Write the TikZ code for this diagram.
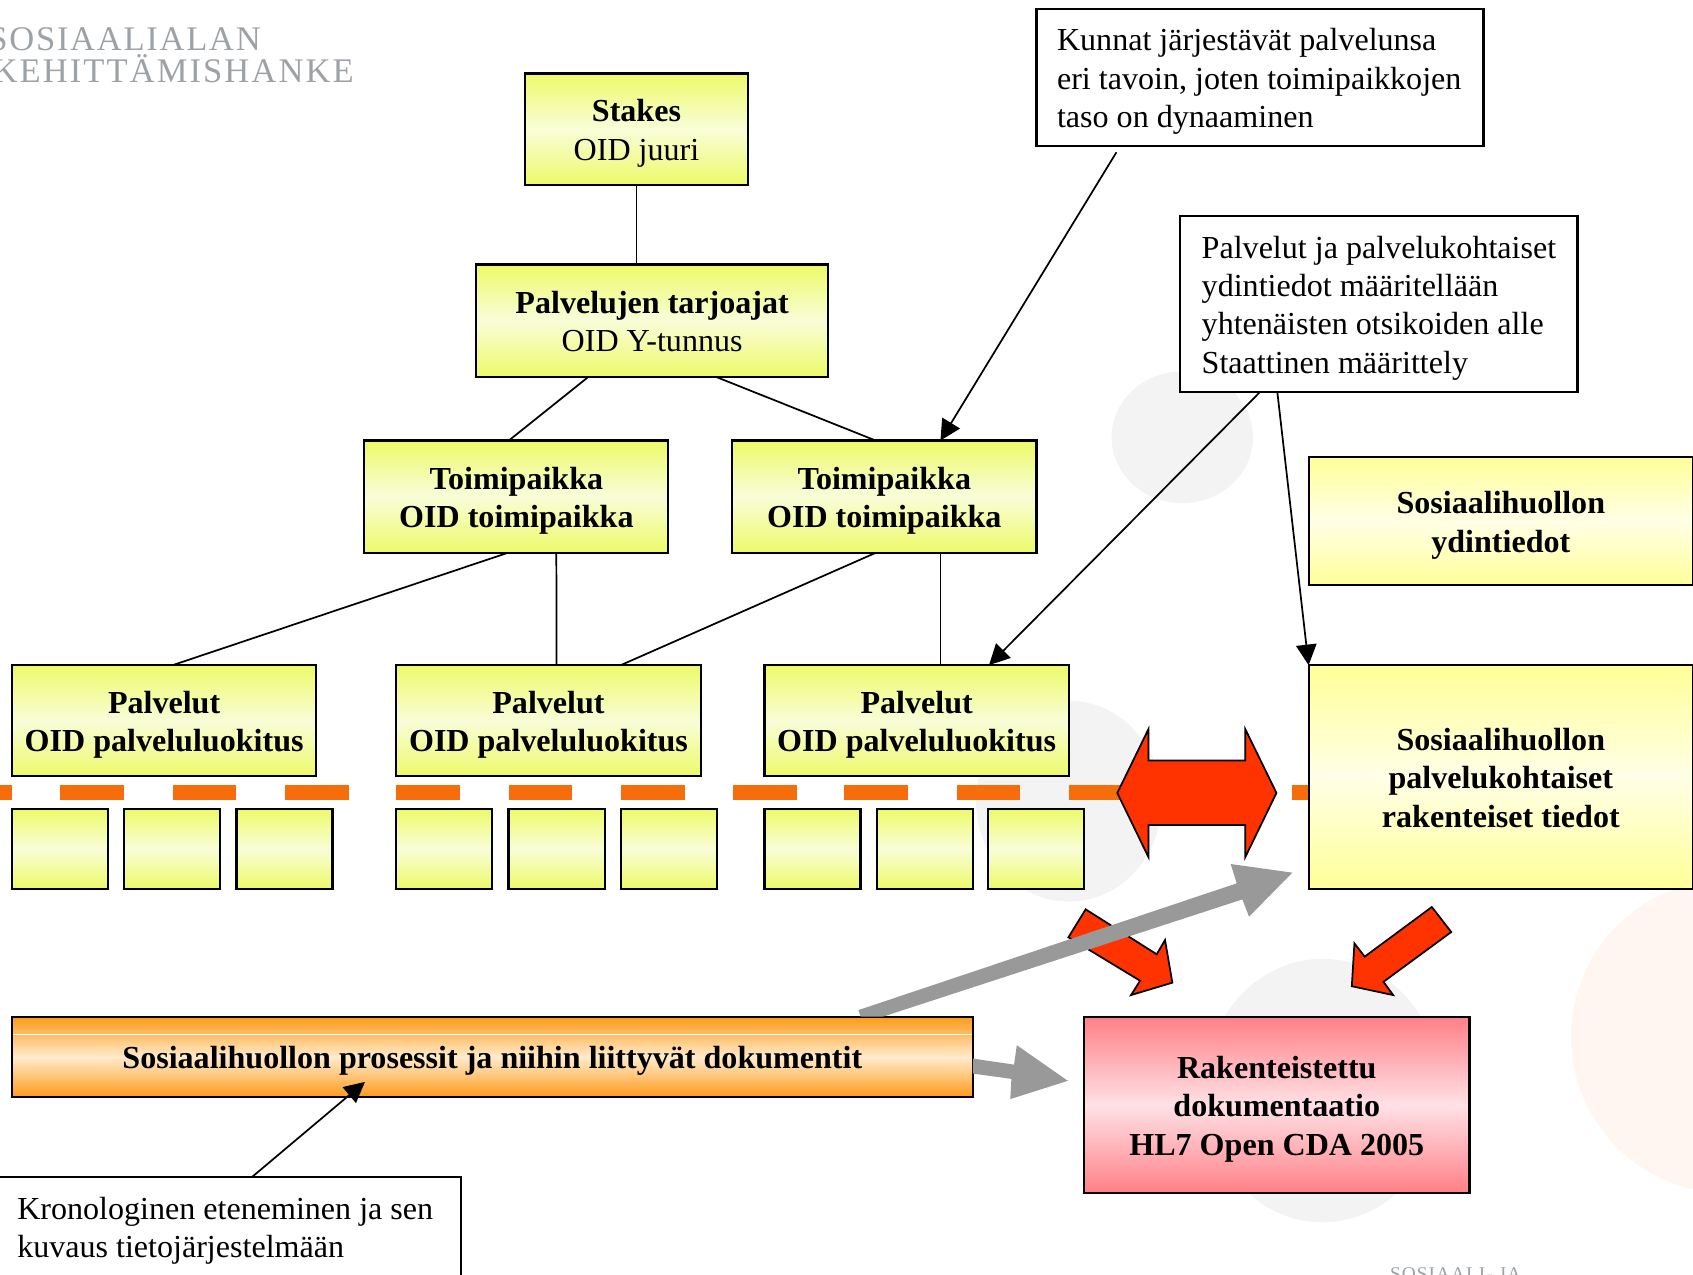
\documentclass[tikz,border=0pt]{standalone}
\usepackage{fontspec}
\setmainfont{Liberation Serif}
\usetikzlibrary{arrows.meta,calc}
\definecolor{yEnd}{HTML}{EDFA68}
\definecolor{yMid}{HTML}{F9FDD8}
\definecolor{sEnd}{HTML}{FFFF99}
\definecolor{sMid}{HTML}{FFFFE6}
\definecolor{pEnd}{HTML}{FF8087}
\definecolor{pMid}{HTML}{FFE1E6}
\definecolor{oEnd}{HTML}{FF9A1A}
\definecolor{oMid}{HTML}{FFEBCC}
\definecolor{redArrow}{HTML}{FF3300}
\definecolor{greyArrow}{HTML}{999999}
\definecolor{dashOrange}{HTML}{F76D0C}
\definecolor{bgGrey}{HTML}{F3F3F3}
\definecolor{bgRed}{HTML}{FFF6F2}
\definecolor{logoGrey}{HTML}{9DA2A6}
\newcommand{\topstrut}{\rule{0pt}{15pt}}
\newcommand{\botstrut}{\rule[-4pt]{0pt}{4pt}}
\newcommand{\boxat}[7]{%
  \pgfmathsetmacro{\bcx}{(#2+#4)/2}\pgfmathsetmacro{\bcy}{(#3+#5)/2}%
  \pgfmathsetmacro{\bw}{(#4-#2)*0.5}\pgfmathsetmacro{\bh}{(#5-#3)*0.5}%
  \node[#6,minimum width=\bw pt,minimum height=\bh pt] (#1) at (\bcx,\bcy) {\topstrut #7\botstrut};}
\newcommand{\dashat}[1]{\fill[dashOrange] (#1,727) rectangle ++(59,14);}
\tikzset{
  base/.style={draw=black,line width=1pt,inner sep=0pt,outer sep=0pt,align=flush center,
    font=\fontsize{14.85}{17.75}\selectfont},
  ybox/.style={base,top color=yEnd,bottom color=yEnd,middle color=yMid},
  sbox/.style={base,top color=sEnd,bottom color=sEnd,middle color=sMid},
  pbox/.style={base,top color=pEnd,bottom color=pEnd,middle color=pMid},
  obox/.style={base,top color=oEnd,bottom color=oEnd,middle color=oMid},
  note/.style={base,fill=white,align=flush left},
  logo/.style={inner sep=0pt,text=logoGrey},
  link/.style={line width=0.8pt,draw=black},
  pointer/.style={line width=0.8pt,draw=black,-{Triangle[length=9.5pt,width=9.5pt]}},
  redshape/.style={fill=redArrow,draw=black,line width=0.8pt,line join=miter},
  greyshape/.style={fill=greyArrow,draw=none},
}
\begin{document}
\begin{tikzpicture}[x=0.5pt,y=-0.5pt]
\useasboundingbox (0,0) rectangle (1568,1180);
\clip (0,0) rectangle (1568,1180);
% background marks
\fill[bgGrey] (1095,405) ellipse [x radius=65.5,y radius=61];
\fill[bgGrey] (990,742) ellipse [x radius=86,y radius=93];
\fill[bgGrey] (1225,1010) ellipse [x radius=110,y radius=122];
\fill[bgRed] (1600,960) circle (145);
% logos
\node[logo,anchor=base east,font=\fontsize{16}{16}\selectfont\addfontfeature{LetterSpace=5}] (logoa) at (242,47) {SOSIAALIALAN};
\node[logo,anchor=base east,font=\fontsize{16}{16}\selectfont\addfontfeature{LetterSpace=6}] (logob) at (328,76.5) {KEHITTÄMISHANKE};
\node[logo,anchor=base west,font=\fontsize{9}{9}\selectfont\addfontfeature{LetterSpace=5}] (logoc) at (1287,1186) {SOSIAALI- JA};
% dashes
\fill[dashOrange] (0,727) rectangle (11.5,741);
\foreach \dx in {56,160,264,367,471,575,679,782,886,990} {\dashat{\dx}}
\fill[dashOrange] (1197,727) rectangle (1212,741);
% tree boxes
\boxat{stakes}{486}{68}{693}{171}{ybox}{\textbf{Stakes}\\OID juuri}
\boxat{tarj}{441}{245}{767}{349}{ybox}{\textbf{Palvelujen tarjoajat}\\OID Y-tunnus}
\boxat{toima}{337.5}{408}{619}{512}{ybox}{\textbf{Toimipaikka}\\\textbf{OID toimipaikka}}
\boxat{toimb}{678}{408}{960}{512}{ybox}{\textbf{Toimipaikka}\\\textbf{OID toimipaikka}}
\boxat{pala}{11}{616}{293}{719}{ybox}{\textbf{Palvelut}\\\textbf{OID palveluluokitus}}
\boxat{palb}{367}{616}{649}{719}{ybox}{\textbf{Palvelut}\\\textbf{OID palveluluokitus}}
\boxat{palc}{708}{616}{990}{719}{ybox}{\textbf{Palvelut}\\\textbf{OID palveluluokitus}}
% small boxes
\boxat{sa}{11}{749}{100}{823}{ybox}{}
\boxat{sb}{115}{749}{204}{823}{ybox}{}
\boxat{sc}{219}{749}{308}{823}{ybox}{}
\boxat{sd}{367}{749}{456}{823}{ybox}{}
\boxat{se}{471}{749}{560}{823}{ybox}{}
\boxat{sf}{575}{749}{664}{823}{ybox}{}
\boxat{sg}{708}{749}{797}{823}{ybox}{}
\boxat{sh}{812}{749}{901}{823}{ybox}{}
\boxat{si}{915}{749}{1004}{823}{ybox}{}
% right boxes
\boxat{ydin}{1212}{423}{1568}{542}{sbox}{\textbf{Sosiaalihuollon}\\\textbf{ydintiedot}}
\boxat{rak}{1212}{616}{1568}{823}{sbox}{\textbf{Sosiaalihuollon}\\\textbf{palvelukohtaiset}\\\textbf{rakenteiset tiedot}}
% notes
\boxat{kunnat}{960}{8}{1374}{135}{note,text width=188pt}{\mbox{Kunnat järjestävät palvelunsa}\\\mbox{eri tavoin, joten toimipaikkojen}\\\mbox{taso on dynaaminen}}
\boxat{otsikot}{1093}{200}{1461}{363}{note,text width=164pt}{\mbox{Palvelut ja palvelukohtaiset}\\\mbox{ydintiedot määritellään}\\\mbox{yhtenäisten otsikoiden alle}\\\mbox{Staattinen määrittely}}
\boxat{krono}{-6}{1090}{427}{1182}{note,text width=194.5pt}{\mbox{Kronologinen eteneminen ja sen}\\\mbox{kuvaus tietojärjestelmään}}
% tree links
\draw[link] (stakes.south) -- (stakes.south |- tarj.north);
\draw[link] ($(tarj.south)+(-59,0)$) -- ($(toima.north)+(-7,0)$);
\draw[link] ($(tarj.south)+(59,0)$) -- ($(toimb.north)+(-8,0)$);
\draw[link] ($(toima.south)+(-8,0)$) -- ($(pala.north)+(8,0)$);
\draw[link] ($(toima.south)+(37,0)$) -- ($(palb.north)+(7.5,0)$);
\draw[link] ($(toimb.south)+(-8,0)$) -- ($(palb.north)+(67,0)$);
\draw[link] ($(toimb.south)+(52,0)$) -- ($(palc.north)+(22,0)$);
% pointers
\draw[pointer] ($(kunnat.south west)+(74,6)$) -- ($(toimb.north)+(52,0)$);
\draw[pointer] ($(otsikot.south)+(-110,0)$) -- ($(palc.north)+(67,0)$);
\draw[pointer] ($(otsikot.south)+(-94,0)$) -- (rak.north west);
% orange + pink
\boxat{prosessit}{11}{942}{901}{1016}{obox}{\textbf{Sosiaalihuollon prosessit ja niihin liittyvät dokumentit}}
\draw[white,line width=0.75pt] (12,958) -- (900,958);
\boxat{cda}{1004}{942}{1361}{1105}{pbox}{\textbf{Rakenteistettu}\\\textbf{dokumentaatio}\\\textbf{HL7 Open CDA 2005}}
\draw[pointer] ($(krono.north)+(23,0)$) -- ($(prosessit.south)+(-118,-14)$);
% block arrows
\draw[redshape] (1034.8,734.4) -- (1063.7,675.2) -- (1063.7,704.4) -- (1153.3,704.4) -- (1153.3,675.2) -- (1182.2,734.4) -- (1153.3,793.9) -- (1153.3,764) -- (1063.7,764) -- (1063.7,793.9) -- cycle;
\draw[redshape] (1005.5,842.2) -- (989.5,868.1) -- (1055.9,908.3) -- (1047.5,921.6) -- (1085.8,910.1) -- (1079,870.6) -- (1071.3,883.8) -- cycle;
\draw[redshape] (1326.1,840) -- (1344.1,863.2) -- (1281.3,909.3) -- (1290.3,921.6) -- (1252,913.4) -- (1254.4,873.7) -- (1263.9,886) -- cycle;
\fill[greyshape] (795,935.5) -- (1145.4,818.1) -- (1139.8,800.2) -- (1196.9,808.2) -- (1156.8,849) -- (1150.6,833) -- (818,941.5) -- (797,941.5) -- cycle;
\fill[greyshape] (prosessit.east |- 0,980.4) -- (939.2,986) -- (941.7,968) -- (989,1001) -- (935.7,1017.9) -- (936.7,999.2) -- (prosessit.east |- 0,994.3) -- cycle;
\end{tikzpicture}
\end{document}
